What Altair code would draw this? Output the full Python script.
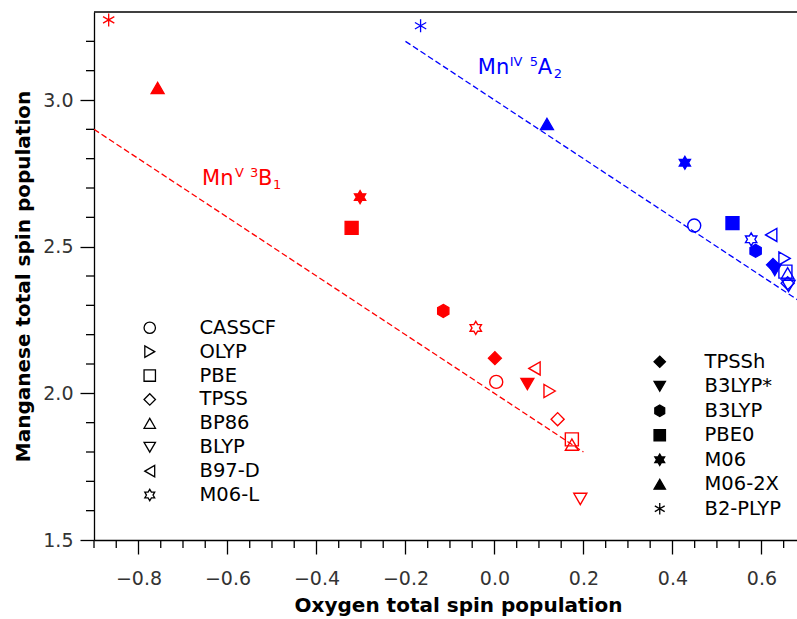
import altair as alt
import pandas as pd

# ---------------- data ----------------
methods = ["CASSCF", "OLYP", "PBE", "TPSS", "BP86", "BLYP", "B97-D", "M06-L",
           "TPSSh", "B3LYP*", "B3LYP", "PBE0", "M06", "M06-2X", "B2-PLYP"]
open_methods = methods[:8]
filled_methods = methods[8:]

# Mn(V) 3B1 state (red)
mn5_oxygen = [0.004, 0.124, 0.174, 0.142, 0.174, 0.193, 0.090, -0.042,
              0.001, 0.074, -0.115, -0.321, -0.302, -0.757, -0.867]
mn5_manganese = [2.039, 2.008, 1.843, 1.912, 1.825, 1.640, 2.085, 2.223,
                 2.120, 2.032, 2.281, 2.564, 2.669, 3.041, 3.273]

# Mn(IV) 5A2 state (blue)
mn4_oxygen = [0.449, 0.652, 0.654, 0.659, 0.659, 0.661, 0.622, 0.577,
              0.626, 0.630, 0.587, 0.535, 0.428, 0.118, -0.166]
mn4_manganese = [2.572, 2.460, 2.415, 2.375, 2.409, 2.366, 2.540, 2.525,
                 2.438, 2.420, 2.486, 2.580, 2.786, 2.918, 3.253]

# dashed fit lines
fit_state = ["V", "V", "IV", "IV"]
fit_oxygen = [-0.9, 0.2, -0.2, 0.7]
fit_manganese = [2.9, 1.8, 3.2, 2.3]

# annotation anchors
label_state = ["V", "IV"]
label_oxygen = [-0.657, -0.0375]
label_manganese = [2.710, 3.089]

x_major = [-0.8, -0.6, -0.4, -0.2, 0.0, 0.2, 0.4, 0.6]
x_minor = [-0.9, -0.85, -0.75, -0.7, -0.65, -0.55, -0.5, -0.45, -0.35, -0.3,
           -0.25, -0.15, -0.1, -0.05, 0.05, 0.1, 0.15, 0.25, 0.3, 0.35, 0.45,
           0.5, 0.55, 0.65]
y_major = [1.5, 2.0, 2.5, 3.0]
y_minor = [1.6, 1.7, 1.8, 1.9, 2.1, 2.2, 2.3, 2.4, 2.6, 2.7, 2.8, 2.9, 3.1, 3.2]

# ---------------- tables ----------------
rows = []
for st, xs, ys in (("V", mn5_oxygen, mn5_manganese), ("IV", mn4_oxygen, mn4_manganese)):
    for m, xv, yv in zip(methods, xs, ys):
        rows.append({"state": st, "method": m, "oxygen": xv, "manganese": yv})
pts = pd.DataFrame(rows)
open_pts = pts[pts["method"].isin(open_methods)]
filled_pts = pts[pts["method"].isin(filled_methods)]

fits = pd.DataFrame({"state": fit_state, "oxygen": fit_oxygen, "manganese": fit_manganese})
labels = pd.DataFrame({"state": label_state, "oxygen": label_oxygen, "manganese": label_manganese})
xminor_df = pd.DataFrame({"oxygen": x_minor})
yminor_df = pd.DataFrame({"manganese": y_minor})

HEXAGRAM = ("M0,-1L0.289,-0.5L0.866,-0.5L0.577,0L0.866,0.5L0.289,0.5L0,1"
            "L-0.289,0.5L-0.866,0.5L-0.577,0L-0.866,-0.5L-0.289,-0.5Z")
HEXAGON = "M0,-1L0.866,-0.5L0.866,0.5L0,1L-0.866,0.5L-0.866,-0.5Z"
ASTERISK = "M0,-1L0,1M-0.866,-0.5L0.866,0.5M-0.866,0.5L0.866,-0.5"

open_shapes = ["circle", "triangle-right", "square", "diamond", "triangle-up",
               "triangle-down", "triangle-left", HEXAGRAM]
filled_shapes = ["diamond", "triangle-down", HEXAGON, "square", HEXAGRAM,
                 "triangle-up", ASTERISK]

FONT = "DejaVu Sans"
W, H = 703, 528

color_scale = alt.Scale(domain=["V", "IV"], range=["#ff0000", "#0000ff"])
x_scale = alt.Scale(domain=[-0.9, 0.68], nice=False, zero=False)
y_scale = alt.Scale(domain=[1.5, 3.3], nice=False, zero=False)

x_axis = alt.Axis(values=x_major, format=".1f", title="Oxygen total spin population",
                  grid=False, tickSize=14, tickWidth=1.3, tickColor="black",
                  domainColor="black", domainWidth=1.3, labelFont=FONT,
                  labelFontSize=19, labelColor="#333333", labelPadding=15,
                  labelOverlap=False, labelFlush=False,
                  titleFont=FONT, titleFontSize=20, titleFontWeight="bold",
                  titleColor="black", titlePadding=7, titleX=364)
y_axis = alt.Axis(values=y_major, format=".1f", title="Manganese total spin population",
                  grid=False, tickSize=14, tickWidth=1.3, tickColor="black",
                  domainColor="black", domainWidth=1.3, labelFont=FONT,
                  labelFontSize=19, labelColor="#333333", labelPadding=7,
                  labelOverlap=False, labelFlush=False,
                  titleFont=FONT, titleFontSize=20, titleFontWeight="bold",
                  titleColor="black", titlePadding=9)

X = alt.X("oxygen:Q", scale=x_scale, axis=x_axis)
Y = alt.Y("manganese:Q", scale=y_scale, axis=y_axis)
color_enc = alt.Color("state:N", scale=color_scale, legend=None)

lines = alt.Chart(fits).mark_line(strokeDash=[6, 3], strokeWidth=1.3, clip=True).encode(
    x=X, y=Y, color=color_enc, detail="state:N",
)

open_layer = alt.Chart(open_pts).mark_point(filled=False, size=170, strokeWidth=1.4, opacity=1).encode(
    x=X, y=Y,
    color=color_enc,
    shape=alt.Shape("method:N", scale=alt.Scale(domain=open_methods, range=open_shapes),
                    legend=alt.Legend(title=None, orient="none", legendX=46, legendY=306,
                                      labelFont=FONT, labelFontSize=19.5, labelColor="black",
                                      symbolSize=130, symbolStrokeWidth=1.3,
                                      symbolStrokeColor="black", symbolFillColor="transparent",
                                      rowPadding=2.9, labelOffset=40, padding=0)),
)

filled_layer = alt.Chart(filled_pts).mark_point(filled=True, size=170, strokeWidth=1.3, opacity=1).encode(
    x=X, y=Y,
    fill=alt.Fill("state:N", scale=color_scale, legend=None),
    stroke=alt.Stroke("state:N", scale=color_scale, legend=None),
    shape=alt.Shape("method:N", scale=alt.Scale(domain=filled_methods, range=filled_shapes),
                    legend=alt.Legend(title=None, orient="none", legendX=556, legendY=340,
                                      labelFont=FONT, labelFontSize=19.5, labelColor="black",
                                      symbolSize=130, symbolStrokeWidth=1.3,
                                      symbolStrokeColor="black", symbolFillColor="black",
                                      rowPadding=3.5, labelOffset=35, padding=0)),
)

minor_x = alt.Chart(xminor_df).mark_rule(color="black", strokeWidth=1.3).encode(
    x=X, y=alt.value(H), y2=alt.value(H + 8),
)
minor_y = alt.Chart(yminor_df).mark_rule(color="black", strokeWidth=1.3).encode(
    y=Y, x=alt.value(-8), x2=alt.value(0),
)
frame_top = alt.Chart(pd.DataFrame({"k": [0]})).mark_rule(color="black", strokeWidth=1.3).encode(
    x=alt.value(0), x2=alt.value(W), y=alt.value(0),
)

# annotation text pieces
red_parts = ["Mn", "V", "3", "B", "1"]
blue_parts = ["Mn", "IV", "5", "A", "2"]
red_style = [(0, 0, 21), (33, -8, 13), (48, -8, 13), (56, 0, 21), (71, 4, 13)]
blue_style = [(0, 0, 21), (32, -8, 13), (52, -8, 13), (60, 0, 21), (76, 4, 13)]

text_layers = []
for st, parts, styles in (("V", red_parts, red_style), ("IV", blue_parts, blue_style)):
    sub = labels[labels["state"] == st]
    for txt, (dx, dy, fs) in zip(parts, styles):
        text_layers.append(
            alt.Chart(sub).mark_text(align="left", baseline="alphabetic", dx=dx, dy=dy,
                                     fontSize=fs, font=FONT).encode(
                x=X, y=Y, color=color_enc, text=alt.value(txt),
            )
        )

chart = alt.layer(lines, minor_x, minor_y, frame_top, open_layer, filled_layer, *text_layers).resolve_scale(
    shape="independent"
).properties(
    width=W, height=H,
    padding={"left": 94, "top": 12, "right": 0, "bottom": 79},
    autosize=alt.AutoSizeParams(type="none"),
    background="white",
).configure_view(stroke=None)

chart.save("out.html", embed_options={"renderer": "svg", "actions": False})
